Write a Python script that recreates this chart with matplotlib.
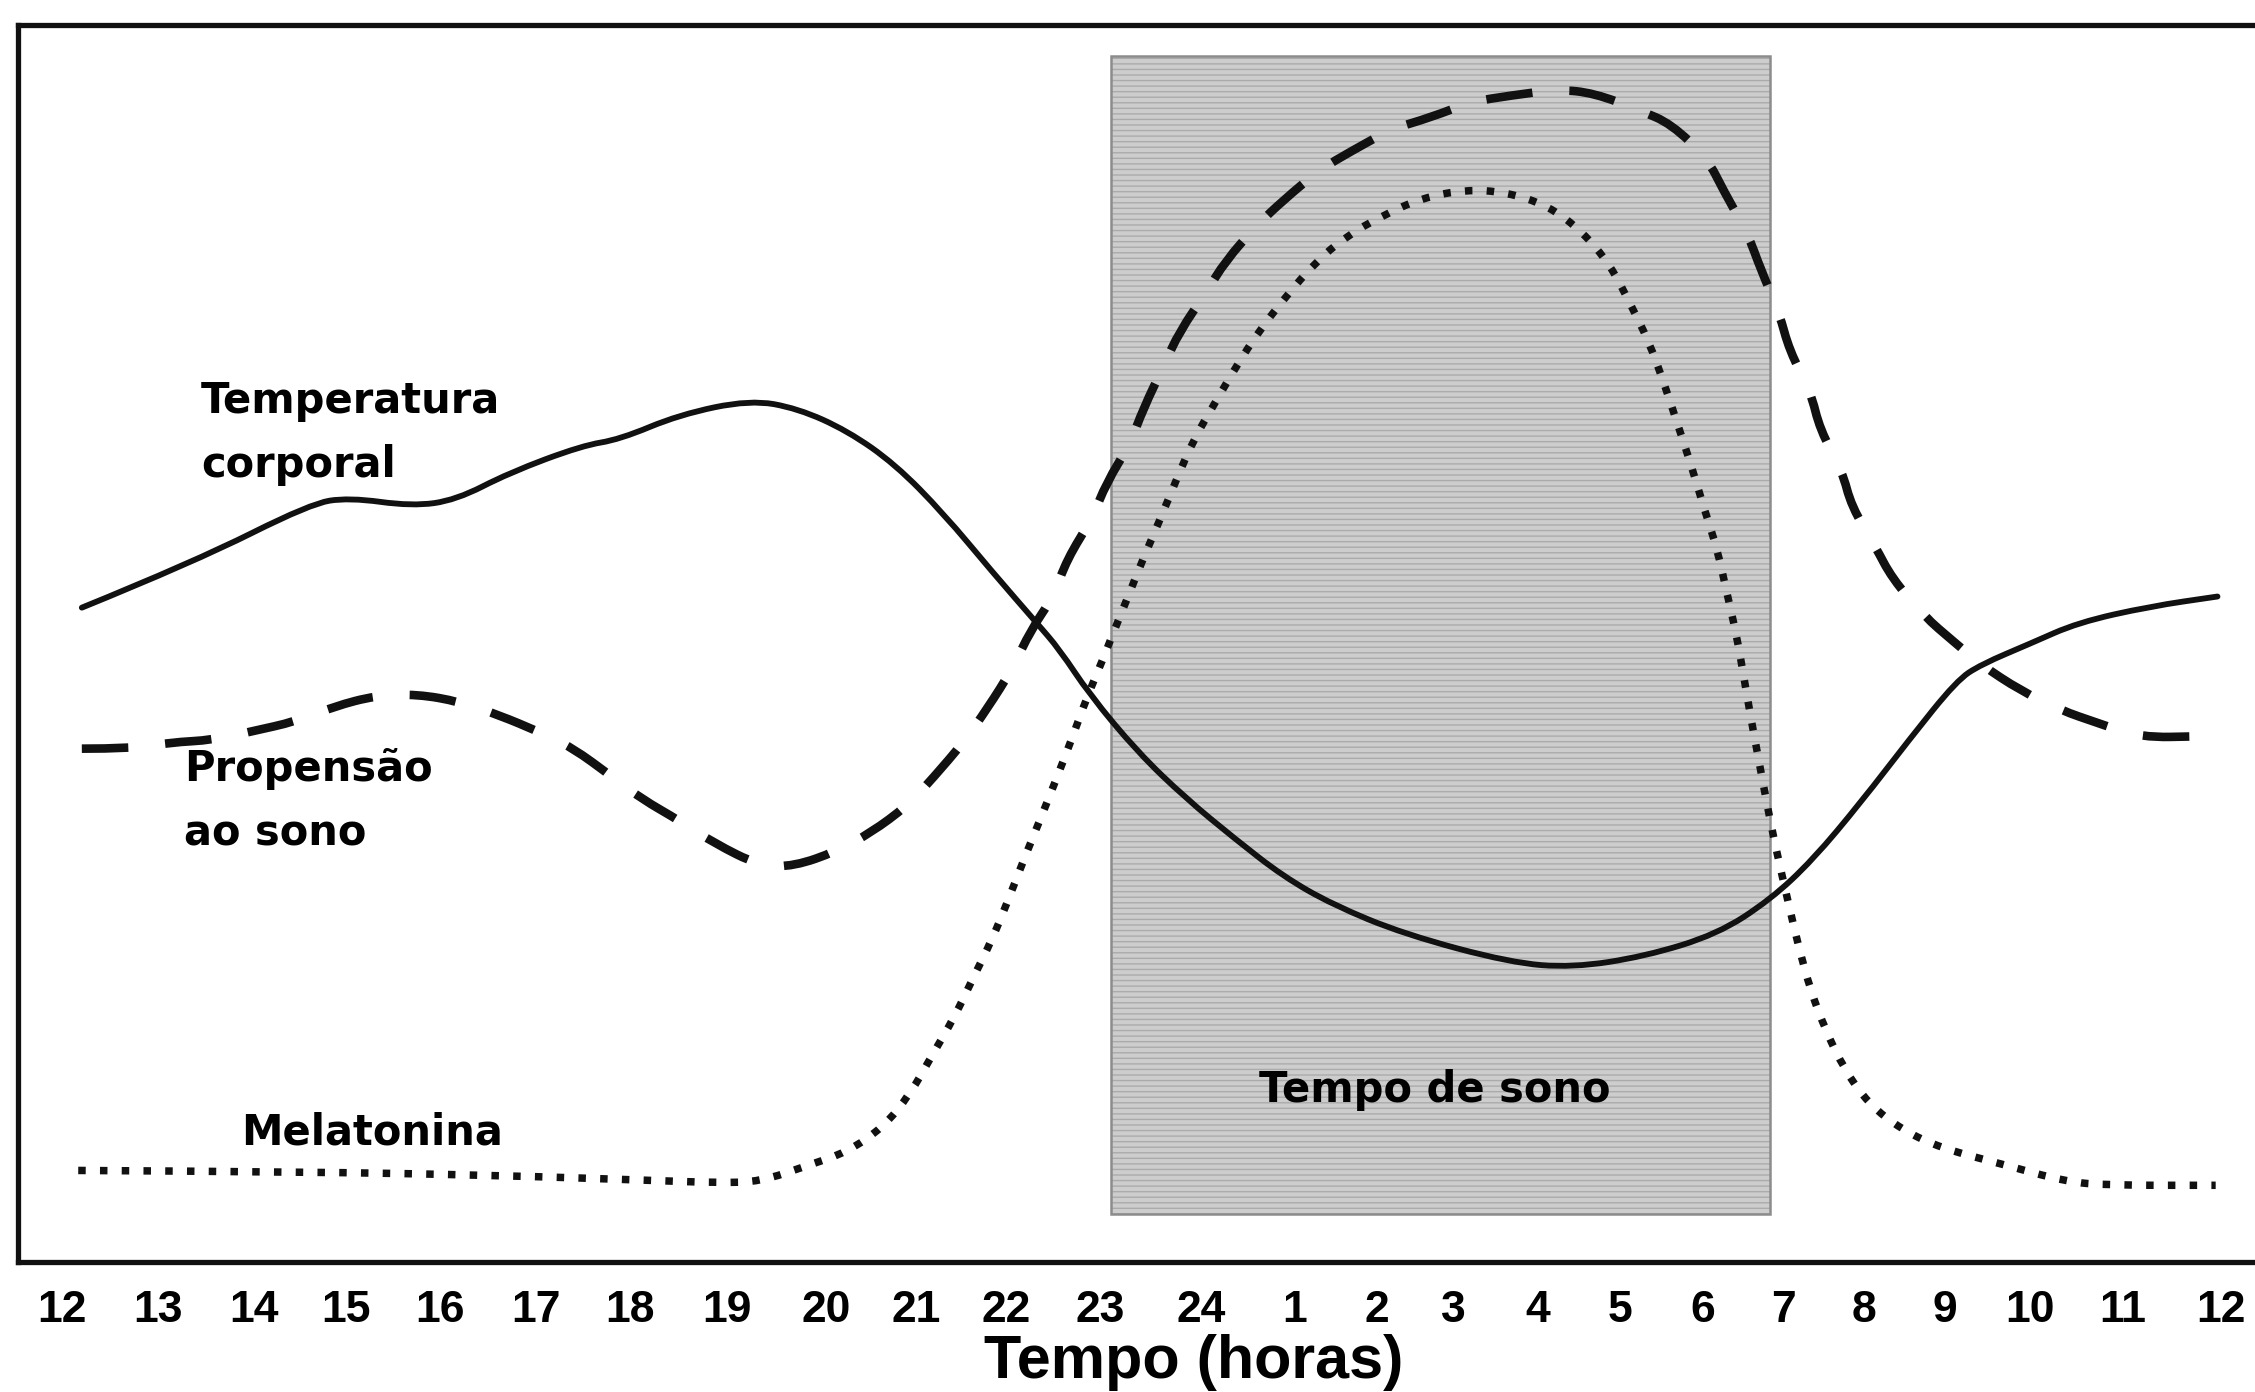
import matplotlib.pyplot as plt
from matplotlib.patches import Rectangle, PathPatch
from matplotlib.path import Path

# x: horas desde 12h (0 = 12h, 24 = 12h do dia seguinte), y: escala relativa 0-100
tick_pos = [0, 1.07, 2.13, 3.16, 4.20, 5.27, 6.31, 7.39, 8.49, 9.50, 10.49, 11.54, 12.66,
            13.70, 14.61, 15.47, 16.40, 17.32, 18.24, 19.14, 20.03, 20.93, 21.88, 22.91, 24.0]
tick_lab = ['12', '13', '14', '15', '16', '17', '18', '19', '20', '21', '22', '23', '24',
            '1', '2', '3', '4', '5', '6', '7', '8', '9', '10', '11', '12']

# temperatura corporal (linha continua)
temp_x = [0.22, 1.47, 2.76, 3.19, 3.89, 4.38, 4.97, 5.78, 6.20, 6.86, 7.65, 8.18, 8.73, 9.26,
          9.80, 10.34, 10.83, 11.09, 11.42, 11.96, 12.49, 13.04, 13.57, 14.12, 14.92, 16.10,
          16.79, 17.59, 18.40, 18.99, 19.46, 20.00, 20.53, 21.06, 21.33, 21.88, 22.41, 23.21, 23.96]
temp_y = [52.9, 56.6, 61.3, 61.8, 61.1, 61.6, 63.8, 66.0, 66.5, 68.5, 69.7, 69.0, 67.2, 64.5,
          60.5, 55.8, 51.7, 49.5, 45.9, 41.2, 37.5, 34.2, 31.2, 28.9, 26.5, 24.2,
          23.8, 24.7, 26.5, 29.3, 32.5, 37.2, 42.2, 47.0, 48.3, 50.0, 51.7, 53.0, 53.8]

# propensao ao sono (tracejado)
prop_x = [0.22, 0.77, 1.20, 1.68, 2.11, 2.60, 3.02, 3.49, 3.95, 4.42, 4.86, 5.29, 5.67, 6.12,
          6.43, 6.88, 7.24, 7.76, 8.14, 8.61, 8.99, 9.40, 9.69, 10.02, 10.29, 10.56, 10.77,
          11.02, 11.17, 11.45, 11.61, 11.87, 12.02, 12.25, 12.42, 12.72, 12.93, 13.28, 13.57,
          13.98, 14.33, 14.78, 15.20, 15.67, 16.10, 16.63, 17.03, 17.54, 17.89, 18.29, 18.47,
          18.74, 18.88, 19.09, 19.20, 19.44, 19.54, 19.79, 19.89, 20.16, 20.34, 20.70, 21.02,
          21.33, 21.77, 22.22, 22.62, 23.10, 23.77]
prop_y = [41.5, 41.5, 42.0, 42.2, 42.9, 43.7, 44.9, 45.8, 45.9, 45.3, 44.2, 42.9, 41.6, 39.2,
          37.5, 35.6, 33.9, 32.0, 32.0, 33.2, 34.7, 36.9, 39.2, 42.0, 44.8, 47.9, 51.1,
          53.8, 56.8, 60.1, 63.0, 66.1, 69.0, 72.5, 75.2, 78.4, 80.9, 83.8, 85.8,
          88.3, 89.8, 91.6, 92.5, 93.8, 94.3, 94.8, 94.5, 93.1, 92.0, 89.2, 86.6,
          83.1, 80.3, 76.7, 73.7, 70.3, 67.3, 63.9, 61.1, 57.8, 55.3, 52.2, 50.2,
          48.3, 46.2, 44.6, 43.6, 42.4, 42.5]

# melatonina (pontilhado)
mel_x = [0.18, 2.65, 4.87, 6.54, 7.31, 7.76, 8.29, 8.73, 9.13, 9.43, 9.67, 9.92, 10.13, 10.34,
         10.52, 10.70, 10.88, 11.05, 11.23, 11.39, 11.58, 11.66, 11.85, 12.02, 12.21, 12.39,
         12.58, 12.82, 13.06, 13.31, 13.61, 13.93, 14.27, 14.68, 15.11, 15.60, 16.05, 16.52,
         16.90, 17.21, 17.43, 17.64, 17.81, 17.96, 18.11, 18.25, 18.40, 18.50, 18.61, 18.69,
         18.77, 18.86, 18.95, 19.04, 19.20, 19.31, 19.44, 19.60, 19.81, 20.08, 20.45, 20.89,
         21.57, 22.27, 22.74, 23.94]
mel_y = [7.4, 7.3, 7.0, 6.6, 6.4, 6.5, 7.8, 8.9, 10.9, 13.6, 16.7, 19.8, 23.0, 26.1,
         29.3, 32.7, 35.9, 39.0, 42.4, 45.6, 48.9, 50.4, 53.8, 56.9, 60.1, 63.3,
         66.5, 69.5, 72.5, 75.3, 78.1, 80.8, 82.9, 84.6, 86.0, 86.7, 86.5, 85.4,
         83.3, 80.6, 77.5, 74.4, 71.0, 67.7, 64.4, 61.0, 57.6, 54.3, 50.8, 47.5,
         44.1, 40.6, 37.1, 33.8, 28.7, 25.3, 21.9, 18.8, 15.6, 12.8, 10.7, 9.2,
         7.9, 6.5, 6.2, 6.2]

sleep_start, sleep_end = 11.66, 18.99
sleep_low, sleep_high = 3.9, 97.5


def curva(xs, ys):
    # caminho suave: pontos lidos como controles, meios como nos da curva
    verts = [(xs[0], ys[0])]
    codes = [Path.MOVETO]
    for i in range(1, len(xs) - 1):
        verts += [(xs[i], ys[i]), ((xs[i] + xs[i + 1]) / 2, (ys[i] + ys[i + 1]) / 2)]
        codes += [Path.CURVE3, Path.CURVE3]
    verts.append((xs[-1], ys[-1]))
    codes.append(Path.LINETO)
    return Path(verts, codes)


font_txt = ['DejaVu Sans']
font_ax = ['Liberation Sans Narrow', 'Liberation Sans', 'DejaVu Sans']

fig = plt.figure(figsize=(22.55, 13.92), dpi=100)
ax = fig.add_axes([0.008, 0.0934, 0.992, 0.8886])

# faixa cinza do tempo de sono (com listras horizontais)
ax.add_patch(Rectangle((sleep_start, sleep_low), sleep_end - sleep_start, sleep_high - sleep_low,
                       facecolor='#cdcdcd', edgecolor='#ababab', hatch='---', lw=0, zorder=1))
ax.add_patch(Rectangle((sleep_start, sleep_low), sleep_end - sleep_start, sleep_high - sleep_low,
                       fill=False, edgecolor='#8c8c8c', lw=1.8, zorder=2))

ax.add_patch(PathPatch(curva(temp_x, temp_y), fill=False, edgecolor='#111111', lw=4.2,
                       joinstyle='round', capstyle='round', zorder=3))
ax.add_patch(PathPatch(curva(prop_x, prop_y), fill=False, edgecolor='#111111', lw=6.2,
                       linestyle=(0, (5.4, 4.3)), capstyle='butt', zorder=3))
ax.add_patch(PathPatch(curva(mel_x, mel_y), fill=False, edgecolor='#111111', lw=5.4,
                       linestyle=(0, (1, 1.9)), capstyle='butt', zorder=3))

fs = 30
ax.text(1.545, 68.6, 'Temperatura', family=font_txt, weight='bold', fontsize=fs, va='baseline')
ax.text(1.545, 63.5, 'corporal', family=font_txt, weight='bold', fontsize=fs, va='baseline')
ax.text(1.356, 38.9, 'Propensão', family=font_txt, weight='bold', fontsize=fs, va='baseline', zorder=4)
ax.text(1.356, 33.7, 'ao sono', family=font_txt, weight='bold', fontsize=fs, va='baseline')
ax.text(1.99, 9.5, 'Melatonina', family=font_txt, weight='bold', fontsize=fs, va='baseline')
ax.text(13.31, 12.9, 'Tempo de sono', family=font_txt, weight='bold', fontsize=fs, va='baseline')

ax.set_xlim(-0.489, 24.377)
ax.set_ylim(0, 100)
ax.set_xticks(tick_pos)
ax.set_xticklabels(tick_lab, family=font_ax, weight='bold', fontsize=32)
ax.tick_params(axis='x', length=0, pad=20)
ax.set_yticks([])
for side in ['top', 'left', 'bottom']:
    ax.spines[side].set_linewidth(3.8)
    ax.spines[side].set_color('#111111')
ax.spines['right'].set_visible(False)

fig.text(0.5295, 0.021, 'Tempo (horas)', family=font_ax, weight='bold', fontsize=44,
         ha='center', va='center')

plt.savefig('out.png', dpi=100)
